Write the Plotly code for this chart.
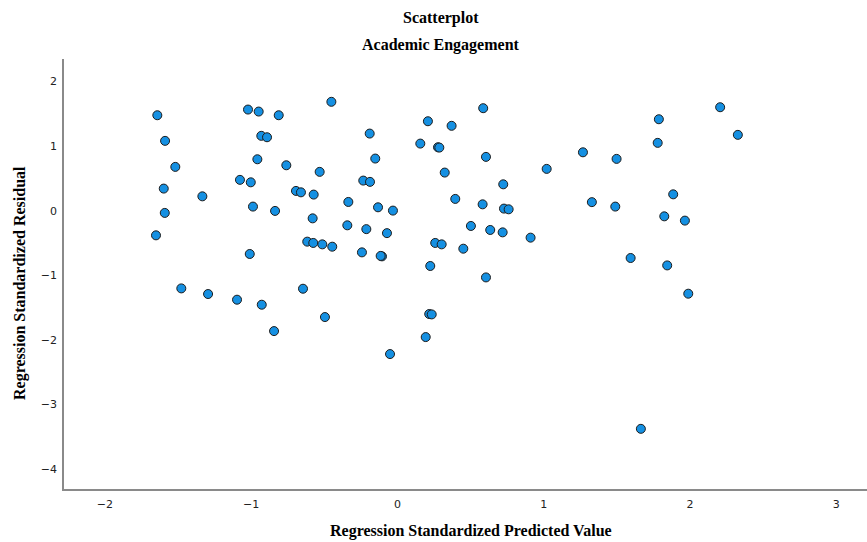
import plotly.graph_objects as go

# Regression standardized predicted values (x) and residuals (y)
predicted = [
    -1.642, -1.589, -1.519, -1.598, -1.591, -1.651, -1.334, -1.022, -0.949, -0.812,
    -0.931, -0.892, -0.958, -0.760, -0.532, -1.077, -1.003, -0.694, -0.660, -0.573,
    -0.988, -0.837, -0.580, -0.336, -0.343, -0.452, -1.010, -0.617, -0.576, -0.514,
    -0.446, -1.478, -1.295, -1.097, -0.928, -0.646, -0.496, -0.844, 0.586, 0.208,
    0.370, -0.190, 0.156, 0.277, 0.286, 0.605, 1.268, 1.020, -0.152, 0.323,
    -0.234, -0.188, 0.723, -0.133, -0.031, 0.395, 0.582, 0.728, 0.760, 1.329,
    -0.213, -0.072, 0.502, 0.634, 0.719, 0.910, -0.243, -0.106, -0.115, 0.258,
    0.302, 0.450, 0.224, 0.605, 0.217, 0.234, 0.193, -0.051, 2.206, 1.787,
    2.327, 1.779, 1.498, 1.885, 1.489, 1.824, 1.965, 1.594, 1.844, 1.988,
    1.664,
]
residual = [
    1.479, 1.082, 0.679, 0.343, -0.034, -0.381, 0.223, 1.567, 1.536, 1.479,
    1.160, 1.138, 0.797, 0.704, 0.602, 0.478, 0.440, 0.307, 0.285, 0.250,
    0.064, -0.003, -0.118, 0.136, -0.226, 1.687, -0.670, -0.479, -0.499, -0.521,
    -0.557, -1.203, -1.290, -1.378, -1.456, -1.208, -1.647, -1.864, 1.588, 1.386,
    1.315, 1.195, 1.040, 0.983, 0.978, 0.834, 0.905, 0.648, 0.808, 0.591,
    0.467, 0.447, 0.409, 0.053, 0.002, 0.183, 0.099, 0.033, 0.022, 0.133,
    -0.285, -0.347, -0.236, -0.298, -0.335, -0.417, -0.645, -0.707, -0.700, -0.499,
    -0.521, -0.588, -0.856, -1.033, -1.600, -1.606, -1.957, -2.220, 1.603, 1.417,
    1.175, 1.051, 0.803, 0.254, 0.064, -0.087, -0.153, -0.732, -0.847, -1.285,
    -3.378,
]

x_ticks = [-2, -1, 0, 1, 2, 3]
y_ticks = [-4, -3, -2, -1, 0, 1, 2]

title_line1 = "Scatterplot"
title_line2 = "Academic Engagement"
x_title = "Regression Standardized Predicted Value"
y_title = "Regression Standardized Residual"

fig = go.Figure()
fig.add_trace(go.Scatter(
    x=predicted, y=residual, mode="markers",
    marker=dict(size=9, color="#1590E2", line=dict(color="#1c1c1c", width=1)),
    showlegend=False, hoverinfo="x+y",
))

serif_bold = dict(family="Liberation Serif", size=16, color="#000000")
tick_font = dict(family="DejaVu Sans", size=11, color="#222222")

fig.update_layout(
    width=867, height=542,
    margin=dict(l=64, r=0, t=59, b=53),
    paper_bgcolor="white", plot_bgcolor="white",
    xaxis=dict(
        range=[-2.28, 3.21], tickvals=x_ticks, showgrid=False, zeroline=False,
        showline=True, linecolor="#8a8a8a", linewidth=1.5,
        ticks="outside", ticklen=4, tickcolor="rgba(0,0,0,0)",
        tickfont=tick_font,
    ),
    yaxis=dict(
        range=[-4.31, 2.35], tickvals=y_ticks, showgrid=False, zeroline=False,
        showline=True, linecolor="#8a8a8a", linewidth=1.5,
        ticks="outside", ticklen=3, tickcolor="rgba(0,0,0,0)",
        tickfont=tick_font,
    ),
    annotations=[
        dict(text="<b>%s</b>" % title_line1, xref="paper", yref="paper",
             x=0.4695, y=1.095, xanchor="center", yanchor="middle",
             showarrow=False, font=serif_bold),
        dict(text="<b>%s</b>" % title_line2, xref="paper", yref="paper",
             x=0.4695, y=1.0326, xanchor="center", yanchor="middle",
             showarrow=False, font=serif_bold),
        dict(text="<b>%s</b>" % x_title, xref="paper", yref="paper",
             x=0.507, y=-0.0977, xanchor="center", yanchor="middle",
             showarrow=False, font=serif_bold),
        dict(text="<b>%s</b>" % y_title, xref="paper", yref="paper",
             x=-0.0548, y=0.479, xanchor="center", yanchor="middle",
             textangle=-90, showarrow=False, font=serif_bold),
    ],
)

fig.write_html(
    "out.html",
    config={"displayModeBar": False},
    post_script="document.body.style.margin='0';document.body.style.overflow='hidden';",
)
